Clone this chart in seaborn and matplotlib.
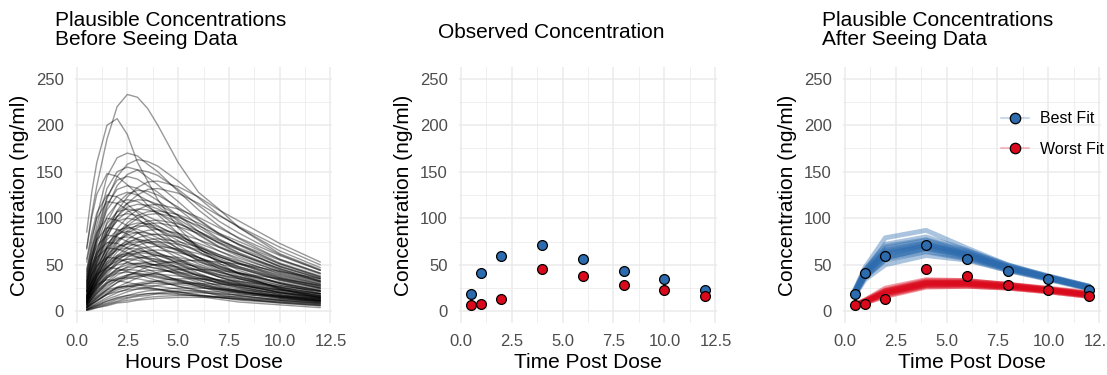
import numpy as np
import pandas as pd
import matplotlib
matplotlib.use("Agg")
import matplotlib.pyplot as plt
import seaborn as sns
from matplotlib.lines import Line2D

# ---------- data ----------
prior_hours = [0.5, 0.75, 1, 1.5, 2, 2.5, 3, 3.5, 4, 5, 6, 7, 8, 10, 12]
prior_curves = [
    [68, 105, 135, 185, 220, 233, 230, 218, 200, 160, 128, 110, 90, 62, 45],
    [85, 128, 160, 200, 207, 190, 160, 140, 120, 90, 68, 52, 40, 24, 14],
    [43, 75, 102, 145, 165, 170, 167, 158, 150, 129, 109, 92, 78, 56, 41],
    [39, 68, 93, 132, 150, 155, 152, 144, 136, 118, 99, 84, 71, 51, 37],
    [36, 64, 87, 123, 141, 145, 142, 135, 128, 110, 93, 78, 67, 48, 35],
    [34, 59, 81, 115, 131, 135, 132, 126, 119, 103, 86, 73, 62, 45, 32],
    [32, 56, 77, 109, 124, 128, 125, 119, 113, 97, 82, 69, 59, 42, 31],
    [30, 53, 72, 102, 116, 120, 118, 112, 106, 91, 77, 65, 55, 40, 29],
    [28, 48, 66, 94, 107, 110, 108, 102, 97, 84, 70, 59, 51, 36, 26],
    [26, 46, 63, 89, 102, 105, 103, 98, 92, 80, 67, 57, 48, 35, 25],
    [25, 44, 60, 85, 97, 100, 98, 93, 88, 76, 64, 54, 46, 33, 24],
    [23, 40, 54, 77, 87, 90, 88, 84, 79, 68, 58, 49, 41, 30, 22],
    [22, 38, 52, 73, 83, 86, 84, 80, 76, 65, 55, 46, 40, 28, 21],
    [20, 35, 48, 68, 78, 80, 78, 74, 70, 61, 51, 43, 37, 26, 19],
    [18, 32, 43, 61, 70, 72, 71, 67, 63, 55, 46, 39, 33, 24, 17],
    [17, 30, 41, 58, 66, 68, 67, 63, 60, 52, 44, 37, 31, 22, 16],
    [16, 27, 37, 53, 60, 62, 61, 58, 55, 47, 40, 33, 29, 20, 15],
    [15, 26, 36, 51, 58, 60, 59, 56, 53, 46, 38, 32, 28, 20, 14],
    [14, 25, 34, 48, 54, 56, 55, 52, 49, 43, 36, 30, 26, 18, 13],
    [13, 23, 31, 44, 50, 52, 51, 48, 46, 40, 33, 28, 24, 17, 12],
    [11, 20, 27, 38, 44, 45, 44, 42, 40, 34, 29, 24, 21, 15, 11],
    [11, 18, 25, 36, 41, 42, 41, 39, 37, 32, 27, 23, 19, 14, 10],
    [9, 16, 22, 31, 35, 36, 35, 33, 32, 27, 23, 19, 17, 12, 9],
    [7, 12, 16, 23, 26, 27, 26, 25, 24, 21, 17, 15, 12, 9, 6],
    [17, 35, 53, 84, 108, 123, 133, 139, 140, 134, 123, 109, 97, 73, 53],
    [16, 33, 50, 79, 102, 116, 125, 131, 132, 127, 116, 103, 91, 69, 50],
    [14, 29, 44, 69, 89, 101, 109, 114, 115, 110, 101, 90, 79, 60, 44],
    [13, 27, 41, 65, 83, 95, 103, 107, 108, 104, 95, 84, 75, 56, 41],
    [13, 26, 40, 63, 81, 92, 100, 104, 105, 101, 92, 82, 72, 55, 40],
    [12, 25, 37, 59, 75, 86, 93, 97, 98, 94, 86, 76, 68, 51, 37],
    [11, 24, 36, 57, 73, 84, 90, 94, 95, 91, 84, 74, 66, 49, 36],
    [11, 22, 33, 53, 68, 77, 84, 87, 88, 84, 77, 69, 61, 46, 33],
    [10, 21, 32, 50, 64, 73, 79, 82, 83, 80, 73, 65, 57, 43, 32],
    [9, 20, 30, 47, 60, 69, 74, 77, 78, 75, 69, 61, 54, 41, 30],
    [9, 19, 29, 45, 58, 66, 71, 74, 75, 72, 66, 59, 52, 39, 29],
    [8, 18, 27, 42, 54, 62, 67, 69, 70, 67, 62, 55, 48, 36, 27],
    [8, 17, 25, 40, 51, 58, 63, 65, 66, 63, 58, 51, 46, 34, 25],
    [7, 15, 23, 36, 46, 53, 57, 59, 60, 58, 53, 47, 41, 31, 23],
    [6, 14, 21, 32, 42, 48, 51, 53, 54, 52, 48, 42, 37, 28, 21],
    [6, 13, 19, 30, 39, 44, 48, 50, 50, 48, 44, 39, 35, 26, 19],
    [5, 11, 17, 26, 34, 39, 42, 44, 44, 42, 39, 34, 30, 23, 17],
    [5, 10, 15, 24, 31, 35, 38, 40, 40, 38, 35, 31, 28, 21, 15],
    [4, 8, 12, 19, 25, 28, 30, 32, 32, 31, 28, 25, 22, 17, 12],
    [4, 8, 11, 18, 23, 26, 29, 30, 30, 29, 26, 23, 21, 16, 11],
    [2, 5, 7, 11, 15, 17, 18, 19, 19, 18, 17, 15, 13, 10, 7],
    [67, 101, 126, 148, 145, 136, 126, 114, 104, 84, 68, 55, 44, 30, 19],
    [56, 85, 106, 125, 123, 115, 106, 96, 88, 71, 58, 46, 38, 25, 16],
    [53, 80, 100, 118, 116, 109, 100, 91, 83, 67, 54, 44, 35, 24, 15],
    [45, 68, 85, 100, 98, 92, 85, 77, 70, 57, 46, 37, 30, 20, 13],
    [41, 61, 77, 90, 88, 83, 77, 69, 63, 51, 41, 33, 27, 18, 12],
    [37, 56, 70, 82, 80, 75, 70, 63, 57, 47, 38, 30, 25, 16, 11],
    [33, 50, 63, 74, 73, 68, 63, 57, 52, 42, 34, 27, 22, 15, 10],
    [31, 46, 58, 68, 67, 63, 58, 52, 48, 39, 31, 25, 20, 14, 9],
    [26, 39, 49, 58, 57, 53, 49, 45, 41, 33, 27, 21, 17, 12, 8],
    [21, 32, 40, 47, 46, 43, 40, 36, 33, 27, 22, 17, 14, 9, 6],
    [15, 23, 29, 34, 33, 31, 29, 26, 24, 19, 16, 13, 10, 7, 4],
    [4, 9, 14, 23, 31, 38, 43, 48, 51, 54, 55, 53, 51, 43, 35],
    [4, 7, 11, 19, 26, 31, 36, 39, 42, 45, 45, 44, 41, 35, 28],
    [3, 6, 9, 15, 20, 24, 28, 30, 33, 35, 35, 34, 32, 27, 22],
    [2, 5, 8, 13, 17, 21, 24, 26, 28, 30, 30, 29, 28, 23, 19],
    [2, 4, 6, 11, 14, 17, 20, 22, 23, 25, 25, 24, 23, 20, 16],
    [2, 4, 6, 9, 13, 15, 17, 19, 20, 22, 22, 21, 20, 17, 14],
    [2, 3, 5, 8, 11, 14, 16, 17, 19, 20, 20, 19, 18, 16, 13],
    [1, 3, 4, 7, 10, 12, 13, 15, 16, 17, 17, 16, 16, 13, 11],
    [1, 2, 4, 6, 9, 10, 12, 13, 14, 15, 15, 15, 14, 12, 9],
    [29, 57, 82, 121, 145, 158, 163, 161, 156, 140, 122, 104, 90, 65, 47],
    [27, 53, 76, 112, 135, 147, 152, 150, 146, 131, 114, 97, 84, 61, 44],
    [23, 46, 65, 96, 116, 126, 130, 129, 125, 112, 98, 83, 72, 52, 38],
    [22, 42, 60, 89, 107, 116, 120, 119, 115, 103, 90, 77, 66, 48, 35],
    [21, 40, 58, 85, 102, 112, 115, 114, 110, 99, 86, 74, 63, 46, 33],
    [20, 39, 55, 81, 98, 107, 110, 109, 106, 95, 83, 70, 61, 44, 32],
    [17, 33, 48, 70, 85, 92, 95, 94, 91, 82, 71, 61, 52, 38, 28],
    [17, 32, 46, 68, 82, 89, 92, 91, 88, 79, 69, 59, 51, 37, 27],
    [15, 30, 43, 63, 76, 82, 85, 84, 82, 73, 64, 54, 47, 34, 25],
    [14, 27, 39, 57, 69, 75, 77, 76, 74, 66, 58, 49, 42, 31, 22],
    [14, 26, 38, 56, 67, 73, 75, 74, 72, 65, 56, 48, 41, 30, 22],
    [12, 23, 33, 48, 58, 63, 65, 64, 62, 56, 49, 42, 36, 26, 19],
    [11, 22, 32, 47, 56, 61, 63, 62, 60, 54, 47, 40, 35, 25, 18],
    [10, 20, 29, 43, 52, 56, 58, 57, 56, 50, 44, 37, 32, 23, 17],
    [9, 18, 26, 38, 46, 50, 52, 51, 50, 45, 39, 33, 29, 21, 15],
    [9, 17, 24, 36, 43, 47, 48, 48, 46, 41, 36, 31, 26, 19, 14],
    [7, 14, 20, 30, 36, 39, 40, 40, 38, 34, 30, 26, 22, 16, 12],
    [7, 13, 19, 28, 34, 37, 38, 38, 36, 33, 29, 24, 21, 15, 11],
    [5, 10, 14, 21, 25, 27, 28, 28, 27, 24, 21, 18, 15, 11, 8],
    [4, 8, 12, 18, 21, 23, 24, 24, 23, 21, 18, 15, 13, 10, 7],
]

obs_hours = [0.5, 1, 2, 4, 6, 8, 10, 12]
best_obs = [19, 41, 60, 71, 56, 43, 35, 23]
worst_obs = [7, 8, 13, 45, 38, 28, 23, 16]

best_post = [
    [20, 40, 62, 70, 60, 46, 36, 25],
    [19, 38, 58, 67, 58, 45, 35, 25],
    [21, 43, 66, 74, 63, 48, 37, 26],
    [18, 36, 55, 64, 56, 44, 34, 24],
    [22, 45, 70, 77, 65, 50, 38, 27],
    [20, 41, 64, 72, 61, 47, 36, 25],
    [19, 39, 60, 69, 59, 46, 36, 26],
    [21, 42, 63, 71, 62, 48, 37, 26],
    [17, 34, 50, 60, 55, 44, 35, 25],
    [23, 47, 79, 87, 68, 50, 37, 26],
    [20, 40, 61, 71, 61, 47, 36, 25],
    [18, 37, 57, 68, 60, 47, 37, 27],
    [22, 44, 72, 80, 66, 49, 37, 25],
    [20, 42, 65, 73, 62, 47, 36, 25],
    [19, 37, 56, 65, 57, 45, 35, 24],
    [21, 44, 68, 76, 64, 49, 38, 27],
]
worst_post = [
    [6, 10, 20, 30, 30, 27, 23, 18],
    [6, 10, 19, 28, 29, 26, 22, 17],
    [7, 12, 23, 33, 33, 29, 24, 19],
    [5, 9, 17, 27, 27, 25, 21, 16],
    [6, 11, 22, 31, 32, 29, 25, 20],
    [6, 10, 20, 29, 30, 27, 23, 18],
    [7, 12, 25, 34, 33, 29, 24, 19],
    [5, 9, 16, 26, 27, 25, 21, 16],
    [6, 10, 20, 30, 29, 26, 22, 17],
    [6, 11, 21, 31, 31, 28, 24, 19],
    [6, 10, 18, 28, 28, 26, 22, 17],
    [7, 11, 22, 32, 31, 28, 23, 18],
]

blue = "#2C6BAE"
red = "#DA0A1C"


def long_curves(curves, hours):
    rows = []
    for i, c in enumerate(curves):
        for t, v in zip(hours, c):
            rows.append({"curve": i, "time": t, "conc": v})
    return pd.DataFrame(rows)


prior_df = long_curves(prior_curves, prior_hours)
best_df = long_curves(best_post, obs_hours)
worst_df = long_curves(worst_post, obs_hours)
obs_best = pd.DataFrame({"time": obs_hours, "conc": best_obs})
obs_worst = pd.DataFrame({"time": obs_hours, "conc": worst_obs})

# ---------- style ----------
sns.set_theme(style="white")
plt.rcParams["font.family"] = ["Liberation Sans", "DejaVu Sans"]
plt.rcParams["text.color"] = "black"
plt.rcParams["axes.labelcolor"] = "black"

W, H = 1107, 375
fig = plt.figure(figsize=(W / 100, H / 100), dpi=100)


def px_axes(x0, x1, y0, y1):
    return fig.add_axes([x0 / W, 1 - y1 / H, (x1 - x0) / W, (y1 - y0) / H])


ax1 = px_axes(75, 332, 67, 323)
ax2 = px_axes(459, 717, 67, 323)
ax3 = px_axes(843, 1101, 67, 323)

for ax in (ax1, ax2, ax3):
    ax.set_xlim(-0.075, 12.575)
    ax.set_ylim(-12.5, 262.5)
    ax.set_xticks(np.arange(0, 12.6, 2.5))
    ax.set_xticks(np.arange(1.25, 12.6, 2.5), minor=True)
    ax.set_yticks(np.arange(0, 251, 50))
    ax.set_yticks(np.arange(25, 251, 50), minor=True)
    ax.set_xticklabels(["0.0", "2.5", "5.0", "7.5", "10.0", "12.5"])
    ax.grid(which="major", color="#EBEBEB", linewidth=1.1)
    ax.grid(which="minor", color="#EBEBEB", linewidth=0.55)
    ax.set_axisbelow(True)
    for s in ax.spines.values():
        s.set_visible(False)
    ax.tick_params(which="both", length=0, labelsize=12, labelcolor="#4D4D4D")
    ax.tick_params(axis="y", pad=8)
    ax.tick_params(axis="x", pad=8)
    ax.set_ylabel("Concentration (ng/ml)", fontsize=15, labelpad=5)

# left panel: prior curves
sns.lineplot(data=prior_df, x="time", y="conc", units="curve", estimator=None,
             color="black", alpha=0.4, linewidth=1.0, ax=ax1, legend=False)
ax1.set_xlabel("Hours Post Dose", fontsize=15, labelpad=3)

# middle panel: observed
for d, c in ((obs_best, blue), (obs_worst, red)):
    sns.scatterplot(data=d, x="time", y="conc", color=c, edgecolor="black",
                    linewidth=0.9, s=50, ax=ax2, zorder=3)
ax2.set_xlabel("Time Post Dose", fontsize=15, labelpad=3)

# right panel: posterior curves + observed
sns.lineplot(data=best_df, x="time", y="conc", units="curve", estimator=None,
             color=blue, alpha=0.4, linewidth=3.5, ax=ax3, legend=False)
sns.lineplot(data=worst_df, x="time", y="conc", units="curve", estimator=None,
             color=red, alpha=0.4, linewidth=3.5, ax=ax3, legend=False)
for d, c in ((obs_best, blue), (obs_worst, red)):
    sns.scatterplot(data=d, x="time", y="conc", color=c, edgecolor="black",
                    linewidth=0.9, s=50, ax=ax3, zorder=3)
ax3.set_xlabel("Time Post Dose", fontsize=15, labelpad=3)

handles = [
    Line2D([0], [0], color=(0.17, 0.42, 0.68, 0.25), lw=1.5, marker="o", markersize=7.5,
           markerfacecolor=blue, markeredgecolor="black", markeredgewidth=0.9),
    Line2D([0], [0], color=(0.85, 0.04, 0.11, 0.25), lw=1.5, marker="o", markersize=7.5,
           markerfacecolor=red, markeredgecolor="black", markeredgewidth=0.9),
]
ax3.legend(handles, ["Best Fit", "Worst Fit"], frameon=False, fontsize=11.5,
           loc="upper left", bbox_to_anchor=((995 - 843) / 258, 1 - (105 - 67) / 256),
           handlelength=1.7, handletextpad=0.7, labelspacing=0.95, borderaxespad=0)

# titles
fig.text(55 / W, 1 - 11 / H, "Plausible Concentrations\nBefore Seeing Data",
         fontsize=15, va="top", ha="left", linespacing=1.0)
fig.text(438 / W, 1 - 33 / H, "Observed Concentration",
         fontsize=15, va="center", ha="left")
fig.text(822 / W, 1 - 11 / H, "Plausible Concentrations\nAfter Seeing Data",
         fontsize=15, va="top", ha="left", linespacing=1.0)

fig.savefig("out.png", dpi=100)
